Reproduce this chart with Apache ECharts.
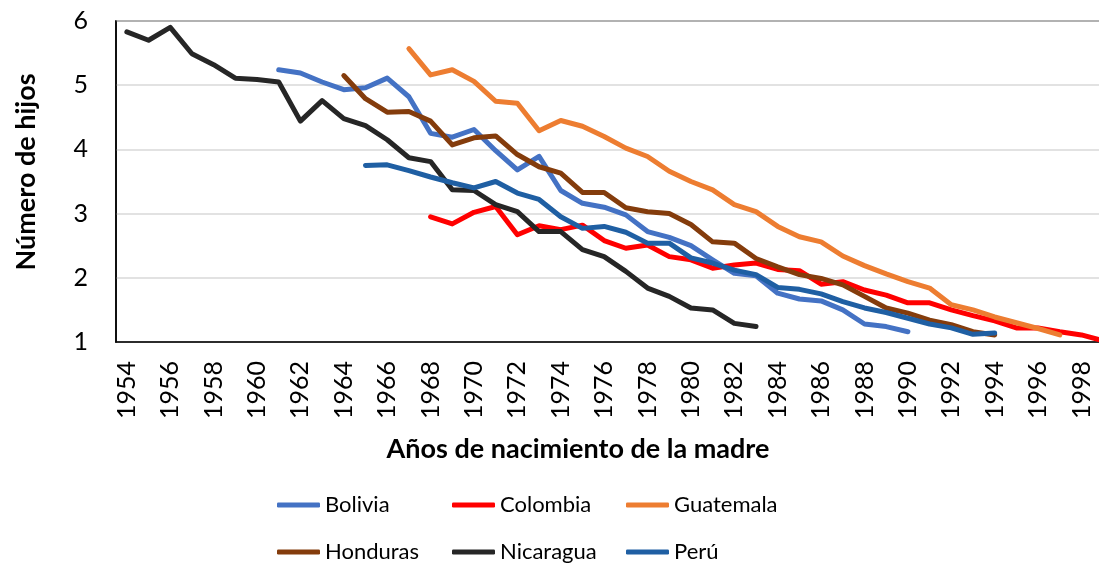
<!DOCTYPE html>
<html>
<head>
<meta charset="utf-8">
<title>Número de hijos</title>
<script src="https://cdn.jsdelivr.net/npm/echarts@6/dist/echarts.min.js"></script>
<style>
	html,body{margin:0;padding:0;background:#fff;}
	#chart{width:1099px;height:564px;}
</style>
</head>
<body>
<div id="chart"></div>
<script>
//--- data (años de nacimiento 1954-1999)
var years		= [];
for(var y=1954;y<=1999;y++) years.push(String(y));

var countries	= ['Bolivia','Colombia','Guatemala','Honduras','Nicaragua','Perú'];
var colors		= ['#4472C4','#FF0000','#ED7D31','#843C0C','#262626','#1F5FA3'];

var boliviaStart	= 1961;
var bolivia		= [5.24,5.19,5.05,4.93,4.96,5.11,4.82,4.25,4.19,4.31,3.98,3.68,3.89,3.36,3.16,3.10,2.98,2.72,2.63,2.50,2.28,2.07,2.03,1.76,1.67,1.64,1.50,1.28,1.24,1.16];
var colombiaStart	= 1968;
var colombia	= [2.95,2.84,3.02,3.11,2.67,2.81,2.75,2.82,2.58,2.46,2.51,2.33,2.28,2.15,2.20,2.23,2.13,2.11,1.90,1.94,1.81,1.73,1.61,1.61,1.50,1.41,1.33,1.22,1.22,1.16,1.11,1.02];
var guatemalaStart	= 1967;
var guatemala	= [5.57,5.16,5.24,5.06,4.75,4.72,4.29,4.45,4.36,4.20,4.02,3.89,3.66,3.50,3.37,3.14,3.03,2.80,2.64,2.56,2.34,2.19,2.06,1.94,1.84,1.58,1.50,1.39,1.30,1.21,1.11];
var hondurasStart	= 1964;
var honduras	= [5.15,4.79,4.58,4.59,4.44,4.07,4.18,4.21,3.92,3.73,3.63,3.33,3.33,3.09,3.03,3.00,2.83,2.56,2.54,2.30,2.17,2.05,1.99,1.89,1.71,1.53,1.45,1.34,1.27,1.16,1.11];
var nicaraguaStart	= 1954;
var nicaragua	= [5.83,5.70,5.90,5.49,5.32,5.11,5.09,5.05,4.44,4.76,4.48,4.37,4.15,3.87,3.81,3.37,3.36,3.14,3.03,2.72,2.72,2.44,2.33,2.10,1.84,1.71,1.53,1.50,1.29,1.24];
var peruStart	= 1965;
var peru		= [3.75,3.76,3.67,3.57,3.48,3.40,3.50,3.32,3.22,2.95,2.77,2.80,2.71,2.54,2.54,2.31,2.23,2.12,2.05,1.85,1.82,1.75,1.63,1.53,1.46,1.37,1.28,1.22,1.12,1.14];

var yTicks		= [1,2,3,4,5,6];

//--- put every country on the 1954-1999 axis
function padSeries(start,vals){
	var out = [];
	for(var i=0;i<years.length;i++){
		var k = 1954 + i - start;
		out.push(k>=0 && k<vals.length ? vals[k] : null);
	}
	return out;
}

var seriesData = [
	padSeries(boliviaStart,bolivia),
	padSeries(colombiaStart,colombia),
	padSeries(guatemalaStart,guatemala),
	padSeries(hondurasStart,honduras),
	padSeries(nicaraguaStart,nicaragua),
	padSeries(peruStart,peru)
];

var FONT = 'Lato';

var MySeries = [];
for(var i=0;i<countries.length;i++){
	MySeries.push({
		name: countries[i],
		type: 'line',
		data: seriesData[i],
		symbol: 'none',
		connectNulls: false,
		lineStyle: {width: 5, color: colors[i], cap: 'round', join: 'round'},
		itemStyle: {color: colors[i]},
		z: 2 + i
	});
}

// legend: 3 columns x 2 rows, one component per item
var legendCols = [277, 452, 626];
var legendRows = [494, 541];
var MyLegends = [];
for(var i=0;i<countries.length;i++){
	MyLegends.push({
		data: [countries[i]],
		left: legendCols[i%3],
		top: legendRows[Math.floor(i/3)],
		padding: 0,
		itemWidth: 43,
		itemHeight: 5,
		icon: 'roundRect',
		textStyle: {fontFamily: FONT, fontSize: 22, color: '#000'}
	});
}

var chart = echarts.init(document.getElementById('chart'), null, {renderer: 'canvas'});

var option = {
	animation: false,
	color: colors,
	// plot area runs past the right edge of the picture (cut off like the original)
	grid: {left: 116, right: -15, top: 21, bottom: 222, outerBoundsMode: 'none', containLabel: false,
		show: true, borderColor: '#000', borderWidth: 1.5, backgroundColor: 'transparent'},
	legend: MyLegends,
	xAxis: {
		type: 'category',
		data: years,
		boundaryGap: true,
		axisLine: {show: true, lineStyle: {color: '#000', width: 1.5}},
		axisTick: {show: false},
		axisLabel: {rotate: 90, interval: 1, margin: 19, fontFamily: FONT, fontSize: 25, color: '#000'}
	},
	yAxis: {
		type: 'value',
		min: 1,
		max: 6,
		interval: 1,
		axisLine: {show: true, lineStyle: {color: '#000', width: 1.5}},
		axisTick: {show: false},
		splitLine: {show: true, lineStyle: {color: '#d9d9d9', width: 1.5}},
		axisLabel: {margin: 28, fontFamily: FONT, fontSize: 25, color: '#000',
			formatter: function(v){ return yTicks.indexOf(v)>=0 ? String(v) : ''; }}
	},
	graphic: [{
		type: 'text',
		x: 578,
		y: 449,
		style: {text: 'Años de nacimiento de la madre', font: 'bold 27px ' + FONT, fill: '#000', textAlign: 'center', textVerticalAlign: 'middle'}
	},{
		type: 'text',
		x: 26,
		y: 172,
		rotation: Math.PI/2,
		style: {text: 'Número de hijos', font: 'bold 27px ' + FONT, fill: '#000', textAlign: 'center', textVerticalAlign: 'middle'}
	}],
	series: MySeries
};

chart.setOption(option);
</script>
</body>
</html>
